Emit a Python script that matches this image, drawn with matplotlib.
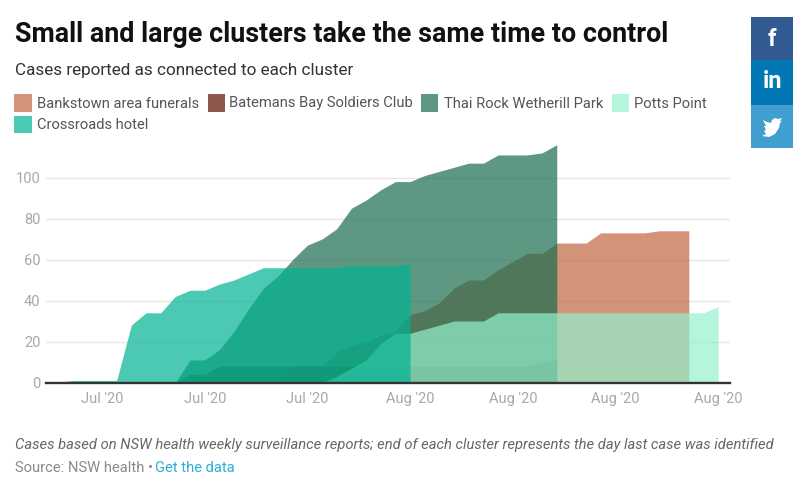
import matplotlib
matplotlib.use("Agg")
import matplotlib.pyplot as plt
from matplotlib.patches import Rectangle, PathPatch
from matplotlib.path import Path

plt.rcParams['font.family'] = ['Roboto', 'DejaVu Sans']

W, H = 800, 479
TITLE = "Small and large clusters take the same time to control"
SUBTITLE = "Cases reported as connected to each cluster"
NOTE = "Cases based on NSW health weekly surveillance reports; end of each cluster represents the day last case was identified"

tick_pos = [0, 7, 14, 21, 28, 35, 42]
tick_labels = ["Jul '20", "Jul '20", "Jul '20", "Aug '20", "Aug '20", "Aug '20", "Aug '20"]
y_ticks = [0, 20, 40, 60, 80, 100]

bankstown_x = list(range(12, 41))
bankstown = [0, 8, 8, 8, 15, 18, 20, 23, 25, 33, 35, 39, 46, 50, 50, 55, 59, 63, 63, 68, 68, 68, 73, 73, 73, 73, 74, 74, 74]
batemans_x = list(range(5, 32))
batemans = [0, 4, 4, 8, 8, 8, 8, 8, 8, 8, 8, 8, 8, 8, 8, 8, 8, 8, 8, 8, 8, 8, 8, 8, 8, 10, 11]
thai_x = list(range(5, 32))
thai = [0, 11, 11, 16, 25, 36, 46, 52, 60, 67, 70, 75, 85, 89, 94, 98, 98, 101, 103, 105, 107, 107, 111, 111, 111, 112, 116]
potts_x = list(range(15, 43))
potts = [0, 3, 7, 11, 19, 24, 24, 26, 28, 30, 30, 30, 34, 34, 34, 34, 34, 34, 34, 34, 34, 34, 34, 34, 34, 34, 34, 37]
cross_x = list(range(-3, 22))
cross = [0, 1, 1, 1, 1, 28, 34, 34, 42, 45, 45, 48, 50, 53, 56, 56, 56, 56, 56, 56, 57, 57, 57, 57, 58]

series = [
    ("Bankstown area funerals", bankstown_x, bankstown, "#bf6640"),
    ("Batemans Bay Soldiers Club", batemans_x, batemans, "#5f1300"),
    ("Thai Rock Wetherill Park", thai_x, thai, "#1a6c4e"),
    ("Potts Point", potts_x, potts, "#94f1cd"),
    ("Crossroads hotel", cross_x, cross, "#00b392"),
]
ALPHA = 0.7

fig = plt.figure(figsize=(W / 100, H / 100), dpi=100, facecolor="white")
L, R, T, B = 46, 730, 130, 382.5
ax = fig.add_axes([L / W, 1 - B / H, (R - L) / W, (B - T) / H])
ax.set_xlim((L - 102) / 14.67, (R - 102) / 14.67)
ax.set_ylim(0, (B - T) / 2.05)
ax.patch.set_alpha(0)
for s in ["top", "left", "right"]:
    ax.spines[s].set_visible(False)
ax.spines["bottom"].set_color("#333333")
ax.spines["bottom"].set_linewidth(1.7)
ax.spines["bottom"].set_zorder(10)
ax.set_axisbelow(True)
ax.yaxis.grid(True, color="#e6e6e6", lw=1)
ax.xaxis.grid(False)
ax.set_xticks(tick_pos, tick_labels)
ax.set_yticks(y_ticks)
ax.tick_params(axis="both", length=0, labelcolor="#a8a8a8", labelsize=10.5)
ax.tick_params(axis="x", pad=7)
ax.tick_params(axis="y", pad=4)

for name, xs, ys, c in series:
    ax.fill_between(xs, 0, ys, color=c, alpha=ALPHA, lw=0, label=name)


def px(x, y):
    return x / W, 1 - y / H


def text(x, y, s, **kw):
    kw.setdefault("va", "center")
    return fig.text(*px(x, y), s, **kw)


text(15, 34, TITLE, fontsize=19.32, fontweight="bold", color="#111111")
text(15, 71, SUBTITLE, fontsize=12.35, color="#333333")

legend_rows = [
    (14.5, 103.5, 37), (208, 103.5, 229), (421, 103.5, 444), (612, 103.5, 634),
    (14.5, 125, 37),
]
for (sx, sy, tx), (name, _, _, c) in zip(legend_rows, series):
    fig.add_artist(Rectangle(px(sx, sy + 8), 17 / W, 17 / H, transform=fig.transFigure,
                             facecolor=c, alpha=ALPHA, lw=0))
    text(tx, sy, name, fontsize=10.6, color="#555555")

text(15, 444.5, NOTE, fontsize=10.63, color="#666666", style="italic")
text(15, 468, "Source: NSW health • ", fontsize=10.63, color="#8a8a8a")
text(155, 468, "Get the data", fontsize=10.63, color="#2eaed6")

buttons = [(17, 60, "#315a92"), (60, 105, "#0177b5"), (105, 148, "#419fcf")]
for y0, y1, c in buttons:
    fig.add_artist(Rectangle(px(751, y1), 42 / W, (y1 - y0) / H, transform=fig.transFigure,
                             facecolor=c, lw=0))
text(772, 39, "f", fontsize=17, fontweight="bold", color="white", ha="center")
text(772, 82, "in", fontsize=17, fontweight="bold", color="white", ha="center")

bird_px = [(763, 120), (767, 122), (771, 123), (772, 120), (775, 118), (778, 119), (782, 118),
           (780, 121), (782, 121), (780, 123), (779, 128), (775, 134), (769, 137), (762, 136),
           (766, 134), (764, 131), (766, 130), (764, 126), (766, 126)]
verts = [px(*p) for p in bird_px] + [px(*bird_px[0])]
codes = [Path.MOVETO] + [Path.LINETO] * (len(bird_px) - 1) + [Path.CLOSEPOLY]
fig.add_artist(PathPatch(Path(verts, codes), transform=fig.transFigure, facecolor="white", lw=0))

fig.savefig("out.png", dpi=100)
